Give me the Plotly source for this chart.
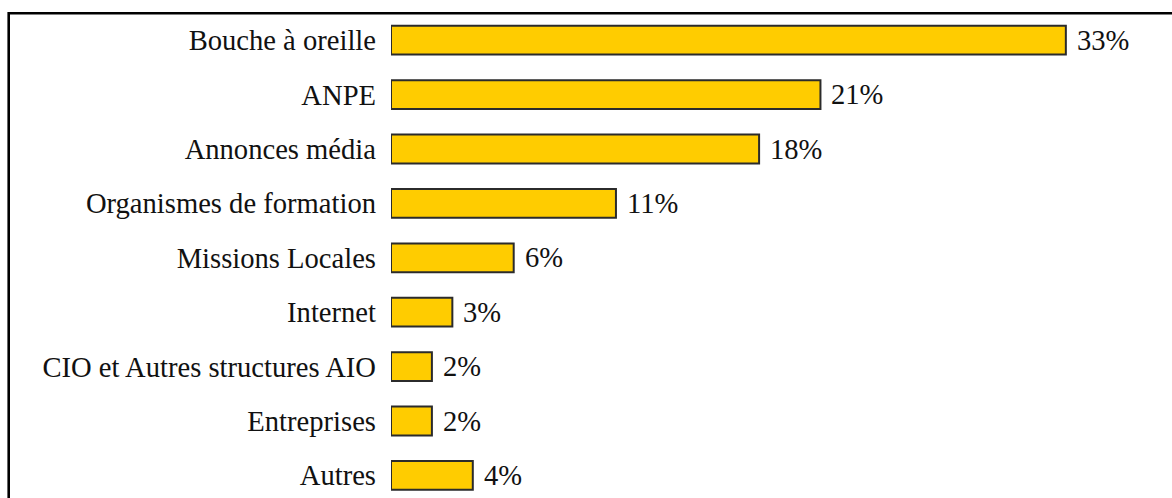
import plotly.graph_objects as go

categories = [
    "Bouche à oreille",
    "ANPE",
    "Annonces média",
    "Organismes de formation",
    "Missions Locales",
    "Internet",
    "CIO et Autres structures AIO",
    "Entreprises",
    "Autres",
]
values = [33, 21, 18, 11, 6, 3, 2, 2, 4]
value_labels = ["33%", "21%", "18%", "11%", "6%", "3%", "2%", "2%", "4%"]

W, H = 1172, 498
ML, MT = 391, 13
plot_w = W - ML
plot_h = H - MT

serif = "Liberation Serif, Times New Roman, serif"
FS = 28.6

fig = go.Figure(
    go.Bar(
        y=categories,
        x=values,
        orientation="h",
        marker=dict(color="#FFCC00", line=dict(color="#2b2b2b", width=2)),
        width=0.53,
        hoverinfo="x+y",
    )
)

# value labels placed just right of each bar end
for cat, val, lab in zip(categories, values, value_labels):
    fig.add_annotation(
        x=val, y=cat, xref="x", yref="y",
        text=lab, showarrow=False,
        xanchor="left", yanchor="middle", xshift=9,
        font=dict(family=serif, size=FS, color="#111"),
    )

# frame edges (left and top)
def px_x(px):
    return (px - ML) / plot_w

def px_y(py):
    return 1 - (py - MT) / plot_h

fig.add_shape(type="line", xref="paper", yref="paper",
              x0=px_x(8.7), x1=px_x(W + 5), y0=px_y(13.2), y1=px_y(13.2),
              line=dict(color="black", width=2.6))
fig.add_shape(type="line", xref="paper", yref="paper",
              x0=px_x(8.7), x1=px_x(8.7), y0=px_y(11.9), y1=px_y(H + 5),
              line=dict(color="black", width=2.6))

fig.update_layout(
    width=W, height=H,
    margin=dict(l=ML, r=0, t=MT, b=0, pad=0),
    paper_bgcolor="white", plot_bgcolor="white",
    showlegend=False,
    font=dict(family=serif, size=FS, color="#111"),
    xaxis=dict(range=[0, plot_w / 20.45], visible=False, fixedrange=True),
    yaxis=dict(
        type="category",
        categoryorder="array",
        categoryarray=categories,
        range=[-0.5 + plot_h / 54.4, -0.5],
        showgrid=False, zeroline=False, showline=False,
        ticks="", ticklabelstandoff=14,
        tickfont=dict(family=serif, size=FS, color="#111"),
    ),
)

fig.write_html("out.html")
